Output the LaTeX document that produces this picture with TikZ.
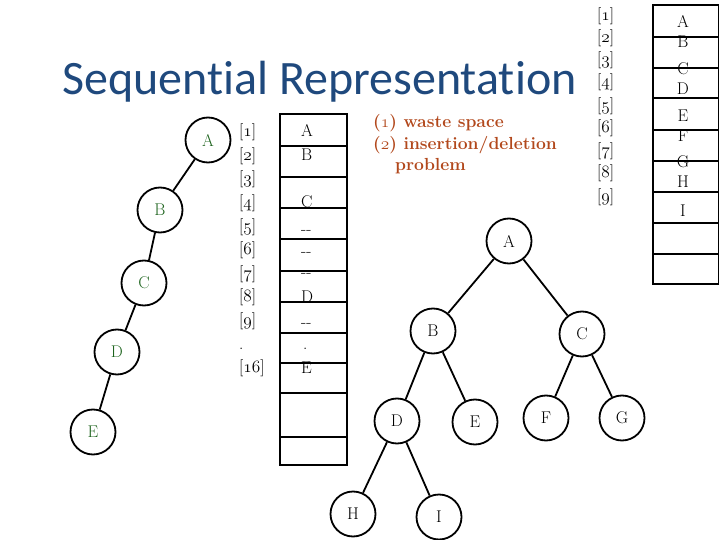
\documentclass[tikz,border=0pt]{standalone}
\usepackage{fontspec}
\newfontfamily\titlefont[Ligatures=CommonOff]{Carlito}
\newcommand\osn[1]{{\usefont{OML}{lmm}{m}{it}#1}}
\newcommand\osnb[1]{{\usefont{OML}{lmm}{b}{it}#1}}
\definecolor{titleblue}{RGB}{31,73,125}
\definecolor{noteorange}{RGB}{178,72,28}
\definecolor{treegreen}{RGB}{30,100,30}
\tikzset{
  tbl/.style={line width=1.9pt},
  idx/.style={anchor=base west, inner sep=0pt, font=\fontsize{17}{20}\selectfont},
  val/.style={anchor=base west, inner sep=0pt, font=\fontsize{17}{20}\selectfont},
  rval/.style={anchor=base, inner sep=0pt, font=\fontsize{17}{20}\selectfont},
  note/.style={anchor=base west, inner sep=0pt, text=noteorange, font=\bfseries\fontsize{17.5}{20}\selectfont},
  tnode/.style={circle, draw, line width=1.8pt, minimum size=45pt, inner sep=0pt, font=\fontsize{17}{20}\selectfont},
  lnode/.style={tnode, text=treegreen},
  edge/.style={line width=1.8pt}
}
\begin{document}
\begin{tikzpicture}[x=1pt,y=-1pt]
\useasboundingbox (0,0) rectangle (720,540);
% title
\node[anchor=base west, inner sep=0pt, text=titleblue, font=\titlefont\fontsize{48}{52}\selectfont] (title) at (62,95) {Sequential Representation};
% note
\node[note] (n1) at (373,128) {(\osnb{1}) waste space};
\node[note] (n2) at (373,150) {(\osnb{2}) insertion/deletion};
\node[note] (n3) at (395,171) {problem};
% left table
\draw[tbl] (280,114) rectangle (347,465);
\foreach \yy in {146,177,208,239,271,302,333,363,393,437}
  \draw[tbl] (280,\yy) -- (347,\yy);
\node[idx] (li1) at (239,137) {[\osn{1}]};
\node[idx] (li2) at (239,160.5) {[\osn{2}]};
\node[idx] (li3) at (239,184) {[\osn{3}]};
\node[idx] (li4) at (239,207.5) {[\osn{4}]};
\node[idx] (li5) at (239,231) {[\osn{5}]};
\node[idx] (li6) at (239,254.5) {[\osn{6}]};
\node[idx] (li7) at (239,278) {[\osn{7}]};
\node[idx] (li8) at (239,301.5) {[\osn{8}]};
\node[idx] (li9) at (239,325) {[\osn{9}]};
\node[idx] (lidot) at (239,349) {.};
\node[idx] (li16) at (239,372.5) {[\osn{16}]};
\node[val] (lv1) at (301,137) {A};
\node[val] (lv2) at (301,160.5) {B};
\node[val] (lv3) at (301,182) {-{}-};
\node[val] (lv4) at (301,207.5) {C};
\node[val] (lv5) at (301,234) {-{}-};
\node[val] (lv6) at (301,256) {-{}-};
\node[val] (lv7) at (301,277) {-{}-};
\node[val] (lv8) at (301,302.5) {D};
\node[val] (lv9) at (301,327) {-{}-};
\node[val] (lvdot) at (303,349) {.};
\node[val] (lv16) at (301,373.5) {E};
% right table
\draw[tbl] (653,5) rectangle (718.5,284);
\foreach \yy in {37,68,98,130,161,192,223,254}
  \draw[tbl] (653,\yy) -- (718.5,\yy);
\node[idx] (ri1) at (597,21) {[\osn{1}]};
\node[idx] (ri2) at (597,43) {[\osn{2}]};
\node[idx] (ri3) at (597,65) {[\osn{3}]};
\node[idx] (ri4) at (597,87) {[\osn{4}]};
\node[idx] (ri5) at (597,111) {[\osn{5}]};
\node[idx] (ri6) at (597,133) {[\osn{6}]};
\node[idx] (ri7) at (597,156) {[\osn{7}]};
\node[idx] (ri8) at (597,178) {[\osn{8}]};
\node[idx] (ri9) at (597,202) {[\osn{9}]};
\node[rval] (rv1) at (683,28) {A};
\node[rval] (rv2) at (683,48) {B};
\node[rval] (rv3) at (683,75) {C};
\node[rval] (rv4) at (683,95) {D};
\node[rval] (rv5) at (683,122) {E};
\node[rval] (rv6) at (683,142) {F};
\node[rval] (rv7) at (683,168) {G};
\node[rval] (rv8) at (683,188) {H};
\node[rval] (rv9) at (683,217) {I};
% left (skewed) tree
\node[lnode] (lA) at (208,140) {A};
\node[lnode] (lB) at (160,210) {B};
\node[lnode] (lC) at (144,283) {C};
\node[lnode] (lD) at (117,352) {D};
\node[lnode] (lE) at (93,432) {E};
\draw[edge] (lA) -- (lB);
\draw[edge] (lB) -- (lC);
\draw[edge] (lC) -- (lD);
\draw[edge] (lD) -- (lE);
% right (complete) tree
\node[tnode] (A) at (509,241) {A};
\node[tnode] (B) at (433,331) {B};
\node[tnode] (C) at (582,334) {C};
\node[tnode] (D) at (397,421) {D};
\node[tnode] (E) at (475,422) {E};
\node[tnode] (F) at (546,418) {F};
\node[tnode] (G) at (622,418) {G};
\node[tnode] (H) at (353,514) {H};
\node[tnode] (I) at (439,517) {I};
\draw[edge] (A) -- (B);
\draw[edge] (A) -- (C);
\draw[edge] (B) -- (D);
\draw[edge] (B) -- (E);
\draw[edge] (C) -- (F);
\draw[edge] (C) -- (G);
\draw[edge] (D) -- (H);
\draw[edge] (D) -- (I);
\end{tikzpicture}
\end{document}
